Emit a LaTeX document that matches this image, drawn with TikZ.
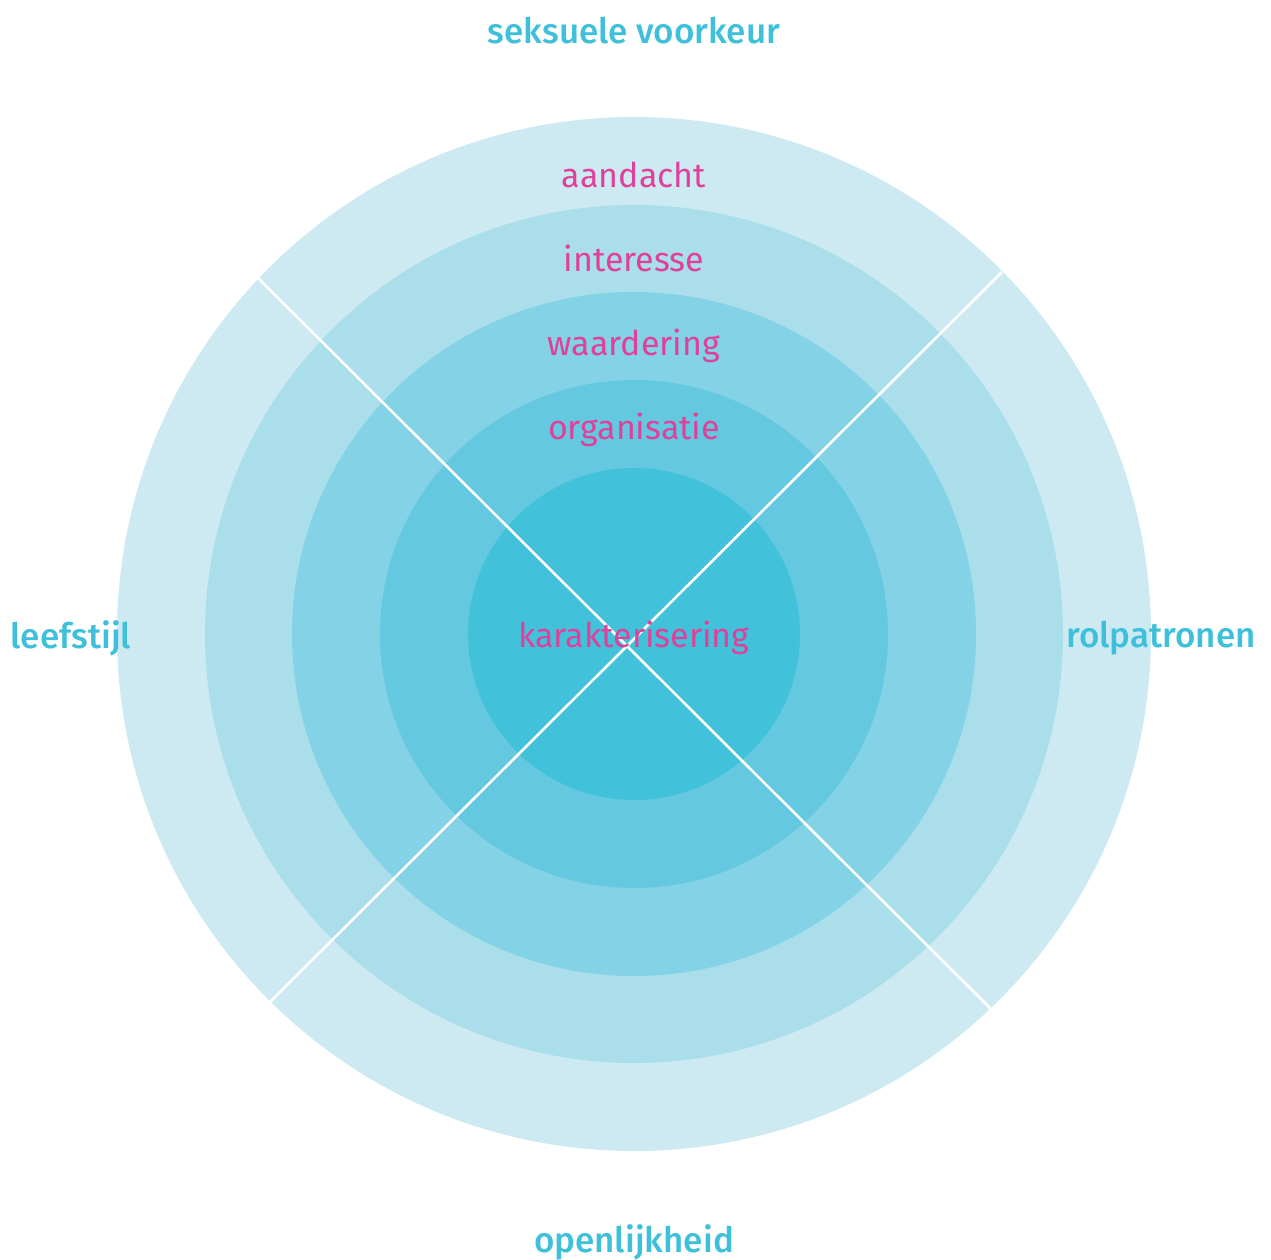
\documentclass[tikz,border=0pt]{standalone}
\usepackage{fontspec}
\setmainfont{Fira Sans}
\newfontfamily\mediumfont{Fira Sans Medium}
\definecolor{ringA}{HTML}{CDEAF3}
\definecolor{ringB}{HTML}{AADEEB}
\definecolor{ringC}{HTML}{84D2E5}
\definecolor{ringD}{HTML}{64C9E0}
\definecolor{ringE}{HTML}{41C2DA}
\definecolor{axistext}{HTML}{3FC0DA}
\definecolor{leveltext}{HTML}{E0409A}
\tikzset{
  axislabel/.style={anchor=base, inner sep=0pt, text=axistext, font=\mediumfont\fontsize{35}{42}\selectfont},
  levellabel/.style={anchor=base, inner sep=0pt, text=leveltext, font=\fontsize{34}{41}\selectfont},
  divider/.style={draw=white, line width=2.6pt}
}
\begin{document}
\begin{tikzpicture}[x=1pt,y=-1pt]
\useasboundingbox (0,0) rectangle (1271,1259);
\coordinate (c) at (634,634);
% concentric rings, outermost first
\fill[ringA] (c) circle[radius=517];
\fill[ringB] (c) circle[radius=429];
\fill[ringC] (c) circle[radius=342];
\fill[ringD] (c) circle[radius=254];
\fill[ringE] (c) circle[radius=166];
% the two dividing diagonals
\coordinate (nw) at (258,278);
\coordinate (se) at (991,1009);
\coordinate (ne) at (1002,272);
\coordinate (sw) at (270,1002);
\draw[divider] (nw) -- (se);
\draw[divider] (ne) -- (sw);
% level labels
\node[levellabel] (aandacht) at (634,187) {aandacht};
\node[levellabel] (interesse) at (634,271) {interesse};
\node[levellabel] (waardering) at (634,355) {waardering};
\node[levellabel] (organisatie) at (634,439) {organisatie};
\node[levellabel] (karakterisering) at (634,647) {karakterisering};
% axis labels
\node[axislabel] (seksueel) at (634,43) {seksuele voorkeur};
\node[axislabel] (leefstijl) at (71,648) {leefstijl};
\node[axislabel] (rolpatronen) at (1161,647) {rolpatronen};
\node[axislabel] (openlijkheid) at (634,1252) {openlijkheid};
\end{tikzpicture}
\end{document}
